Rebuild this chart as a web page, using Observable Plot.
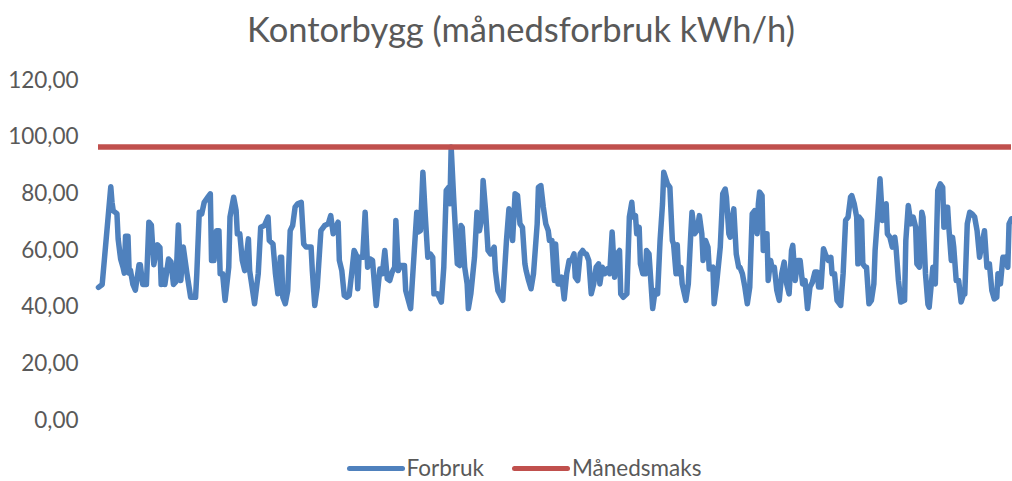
<!DOCTYPE html>
<html>
<head>
<meta charset="utf-8">
<script src="https://cdn.jsdelivr.net/npm/d3@7"></script>
<script src="https://cdn.jsdelivr.net/npm/@observablehq/plot@0.6"></script>
<style>
  html, body { margin: 0; padding: 0; background: #fff; }
  body { width: 1012px; height: 481px; overflow: hidden; font-family: Lato, "Open Sans", sans-serif; color: #595959; }
  #title { height: 60px; text-align: center; font-size: 34.5px; line-height: 58px; color: #595959; padding-left: 30px; }
  #legend { display: flex; justify-content: center; align-items: center; gap: 28px; font-size: 22.5px; line-height: 22px; height: 22px; color: #595959; margin-left: 36px; margin-top: 12px; }
  .item { display: flex; align-items: center; }
  .sw { width: 58px; height: 5px; border-radius: 3px; margin-right: 2px; }
</style>
</head>
<body>
<div id="title">Kontorbygg (månedsforbruk kWh/h)</div>
<div id="chart"></div>
<div id="legend"></div>
<script>
const seriesNames = ["Forbruk", "Månedsmaks"];
const seriesColors = ["#4F81BD", "#C0504D"];
const yTicks = [0, 20, 40, 60, 80, 100, 120];
const manedsmaks = 96.5;

// hour of month, consumption kWh/h
const hours = [
  0,3,10,11,12,15,16,18,20,21,22,24,25,26,28,30,33,34,36,39,41,43,45,48,50,51,53,54,57,59,61,63,65,
  67,69,72,75,79,80,82,84,86,89,91,92,94,96,98,99,101,103,106,107,110,112,113,115,117,119,122,123,125,127,130,132,
  135,138,139,142,144,146,148,149,150,152,154,156,158,160,162,165,167,169,173,174,176,178,181,184,187,189,191,195,196,198,200,
  202,204,206,208,210,211,212,215,217,219,221,223,226,229,231,233,235,237,239,241,242,244,246,249,250,254,257,259,260,262,264,266,268,
  270,272,273,276,279,281,283,285,286,287,289,292,294,295,296,298,300,301,303,306,308,310,312,313,315,317,319,322,323,325,329,332,334,337,339,
  341,343,345,347,348,350,352,354,357,358,360,362,364,366,367,369,371,372,374,376,377,379,381,383,385,387,388,390,392,394,396,397,399,401,403,
  405,407,408,410,412,414,416,418,419,420,422,424,425,427,430,432,434,435,437,438,440,441,443,445,446,448,450,451,453,455,457,459,460,463,465,467,468,470,
  471,472,474,475,478,480,482,483,485,487,489,491,492,494,496,497,500,501,503,506,508,510,511,513,514,515,517,519,521,522,524,526,528,530,532,534,536,537,538,
  540,541,543,544,545,547,548,550,552,554,556,558,560,562,564,565,567,569,571,573,575,577,579,581,583,585,586,588,590,592,594,596,597,599,601,604,606,608,
  610,612,613,615,617,618,619,621,622,624,625,627,629,631,632,634,636,638,640,641,642,644,646,648,649,651,653,656,657,659,660,661,663,665,666,668,670,671,673,
  675,676,679,681,683,685,687,688,689,691,692,694,695,696,698,700,702,704,705,707,709,711,713,715,717,719,721,723,725,727,729,731,732,734,736,738,740,741,743
];
const forbruk = [
  47,48,82.5,77,74,73,64,57,54,52,65,65,52,53,48,46,55,55,48,48,70,69,55,62,61,48,53,48,57,56,48,49,69,
  49.4,61.2,51.8,43.5,43.5,51.8,73.5,72.9,77,78.8,80,56.5,56.5,67,67,51.8,51.8,42.4,54.1,71.8,78.8,74.1,65.9,65.9,56.5,52.9,64.1,52.9,47.1,41.2,51.8,68.2,
  68.8,71.8,63.5,62.3,51.8,44.7,57.6,57.6,43.5,41.2,45.9,67,68.8,75.3,76.5,77,62.3,61.2,61.2,52.9,40.6,47.1,67,68.8,69.4,72.3,65.9,70,56.5,52.9,44.1,
  43.5,44.1,51.8,60,58.2,46.5,57.6,57.6,73.5,54.1,57,56.5,40.6,53.5,51.8,60,50,49.4,52.4,54.1,70.6,52.9,54.7,54.7,45.9,39.5,60,73.5,66.5,67,87.6,71.8,57.6,
  58.8,57.6,44.7,44.7,41.8,54.1,81.2,82.3,76.5,96.5,78.8,55.3,54.7,68.8,68.2,54.1,48.2,39.5,44.7,57.6,73.5,67,71.8,84.7,74.1,60,58.8,61.2,52.9,45.9,42.4,63.5,74.7,63.5,80,
  79.4,69.4,68.2,55.3,52.9,49.4,46.5,51.8,69.4,82.3,82.9,75.3,69.4,67,63.5,63.5,49.4,62.3,48.2,48.2,50.6,42.9,51.8,56.5,56.5,58.8,50.6,49.4,58.8,60,58.8,58.8,56.5,44.7,48.2,
  54.1,55.3,48.2,54.1,51.8,53.5,51.8,66.5,58.8,50.6,58.8,60,44.7,43.5,44.7,71.8,77,71.8,72.3,65.9,68.2,55.3,51.8,51.8,60,58.8,45.9,39.5,45.9,44.7,63.5,76.5,87.6,83.5,82.3,63.5,62.3,51.8,
  62,51.8,54.1,48.2,42.4,48.2,65.9,73.5,65.9,67,72.3,65.9,56.5,63.5,61.2,53.5,54.1,41.2,48.2,61.2,80,81.7,78.8,65.9,64.7,69.4,74.7,58.8,54.1,54.1,51.8,47.1,41.2,47.1,72.9,74.1,65.9,76.5,80.6,
  79.4,60,65.9,65.9,49.4,56.5,54.1,54.1,45.9,42.4,51.8,55.9,48.2,44.7,60,61.8,49.4,56.5,56.5,48.2,49.4,39.5,47.1,48.8,52.4,52.4,47.1,47.1,60.6,58.2,56.5,57.6,51.8,51.8,42.4,40.6,52,70.6,
  71.8,78.8,79.4,76.5,71.8,55.3,71.8,70.6,55.3,54.1,54.1,41.2,42.4,48.2,60,71.8,85.3,70.6,71.8,76.5,65.9,64.7,61.2,64.7,61.2,49.4,41.8,42.4,63.5,75.9,72.9,69.4,71.8,68.2,55.3,54.1,73.5,71.8,51.8,
  41,40,54.1,48.2,81.2,83.5,82.3,68.2,75.3,75.3,68.2,56.5,64.7,61.2,49.4,49.4,41.8,44.7,44.7,69.4,73.5,72.9,71.8,67,57.6,62.3,67,54.1,55.3,45.9,42.9,43.5,51.8,48.2,57.6,57.6,54.1,69.4,71.2
];

const data = hours.map((h, i) => ({hour: h, kwh: forbruk[i]}));
const fmt = d3.format(".2f");

const chart = Plot.plot({
  width: 1012,
  height: 385,
  marginTop: 20,
  marginBottom: 25,
  marginLeft: 98,
  marginRight: 1,
  style: {fontFamily: "Lato, 'Open Sans', sans-serif", fontSize: "22.5px", color: "#595959", background: "#fff"},
  x: {domain: [0, 743], axis: null},
  y: {domain: [0, 120], ticks: yTicks, tickFormat: d => fmt(d).replace(".", ","), tickSize: 0, tickPadding: 20, label: null},
  marks: [
    Plot.axisY({ticks: yTicks, tickFormat: d => fmt(d).replace(".", ","), tickSize: 0, tickPadding: 20, label: null, fill: "#595959"}),
    Plot.line(data, {x: "hour", y: "kwh", stroke: seriesColors[0], strokeWidth: 5.5, strokeLinejoin: "round", strokeLinecap: "round"}),
    Plot.ruleY([manedsmaks], {stroke: seriesColors[1], strokeWidth: 5.5})
  ]
});
document.getElementById("chart").appendChild(chart);

const legend = document.getElementById("legend");
seriesNames.forEach((name, i) => {
  const item = document.createElement("div");
  item.className = "item";
  const sw = document.createElement("div");
  sw.className = "sw";
  sw.style.background = seriesColors[i];
  const t = document.createElement("span");
  t.textContent = name;
  item.appendChild(sw);
  item.appendChild(t);
  legend.appendChild(item);
});
</script>
</body>
</html>
